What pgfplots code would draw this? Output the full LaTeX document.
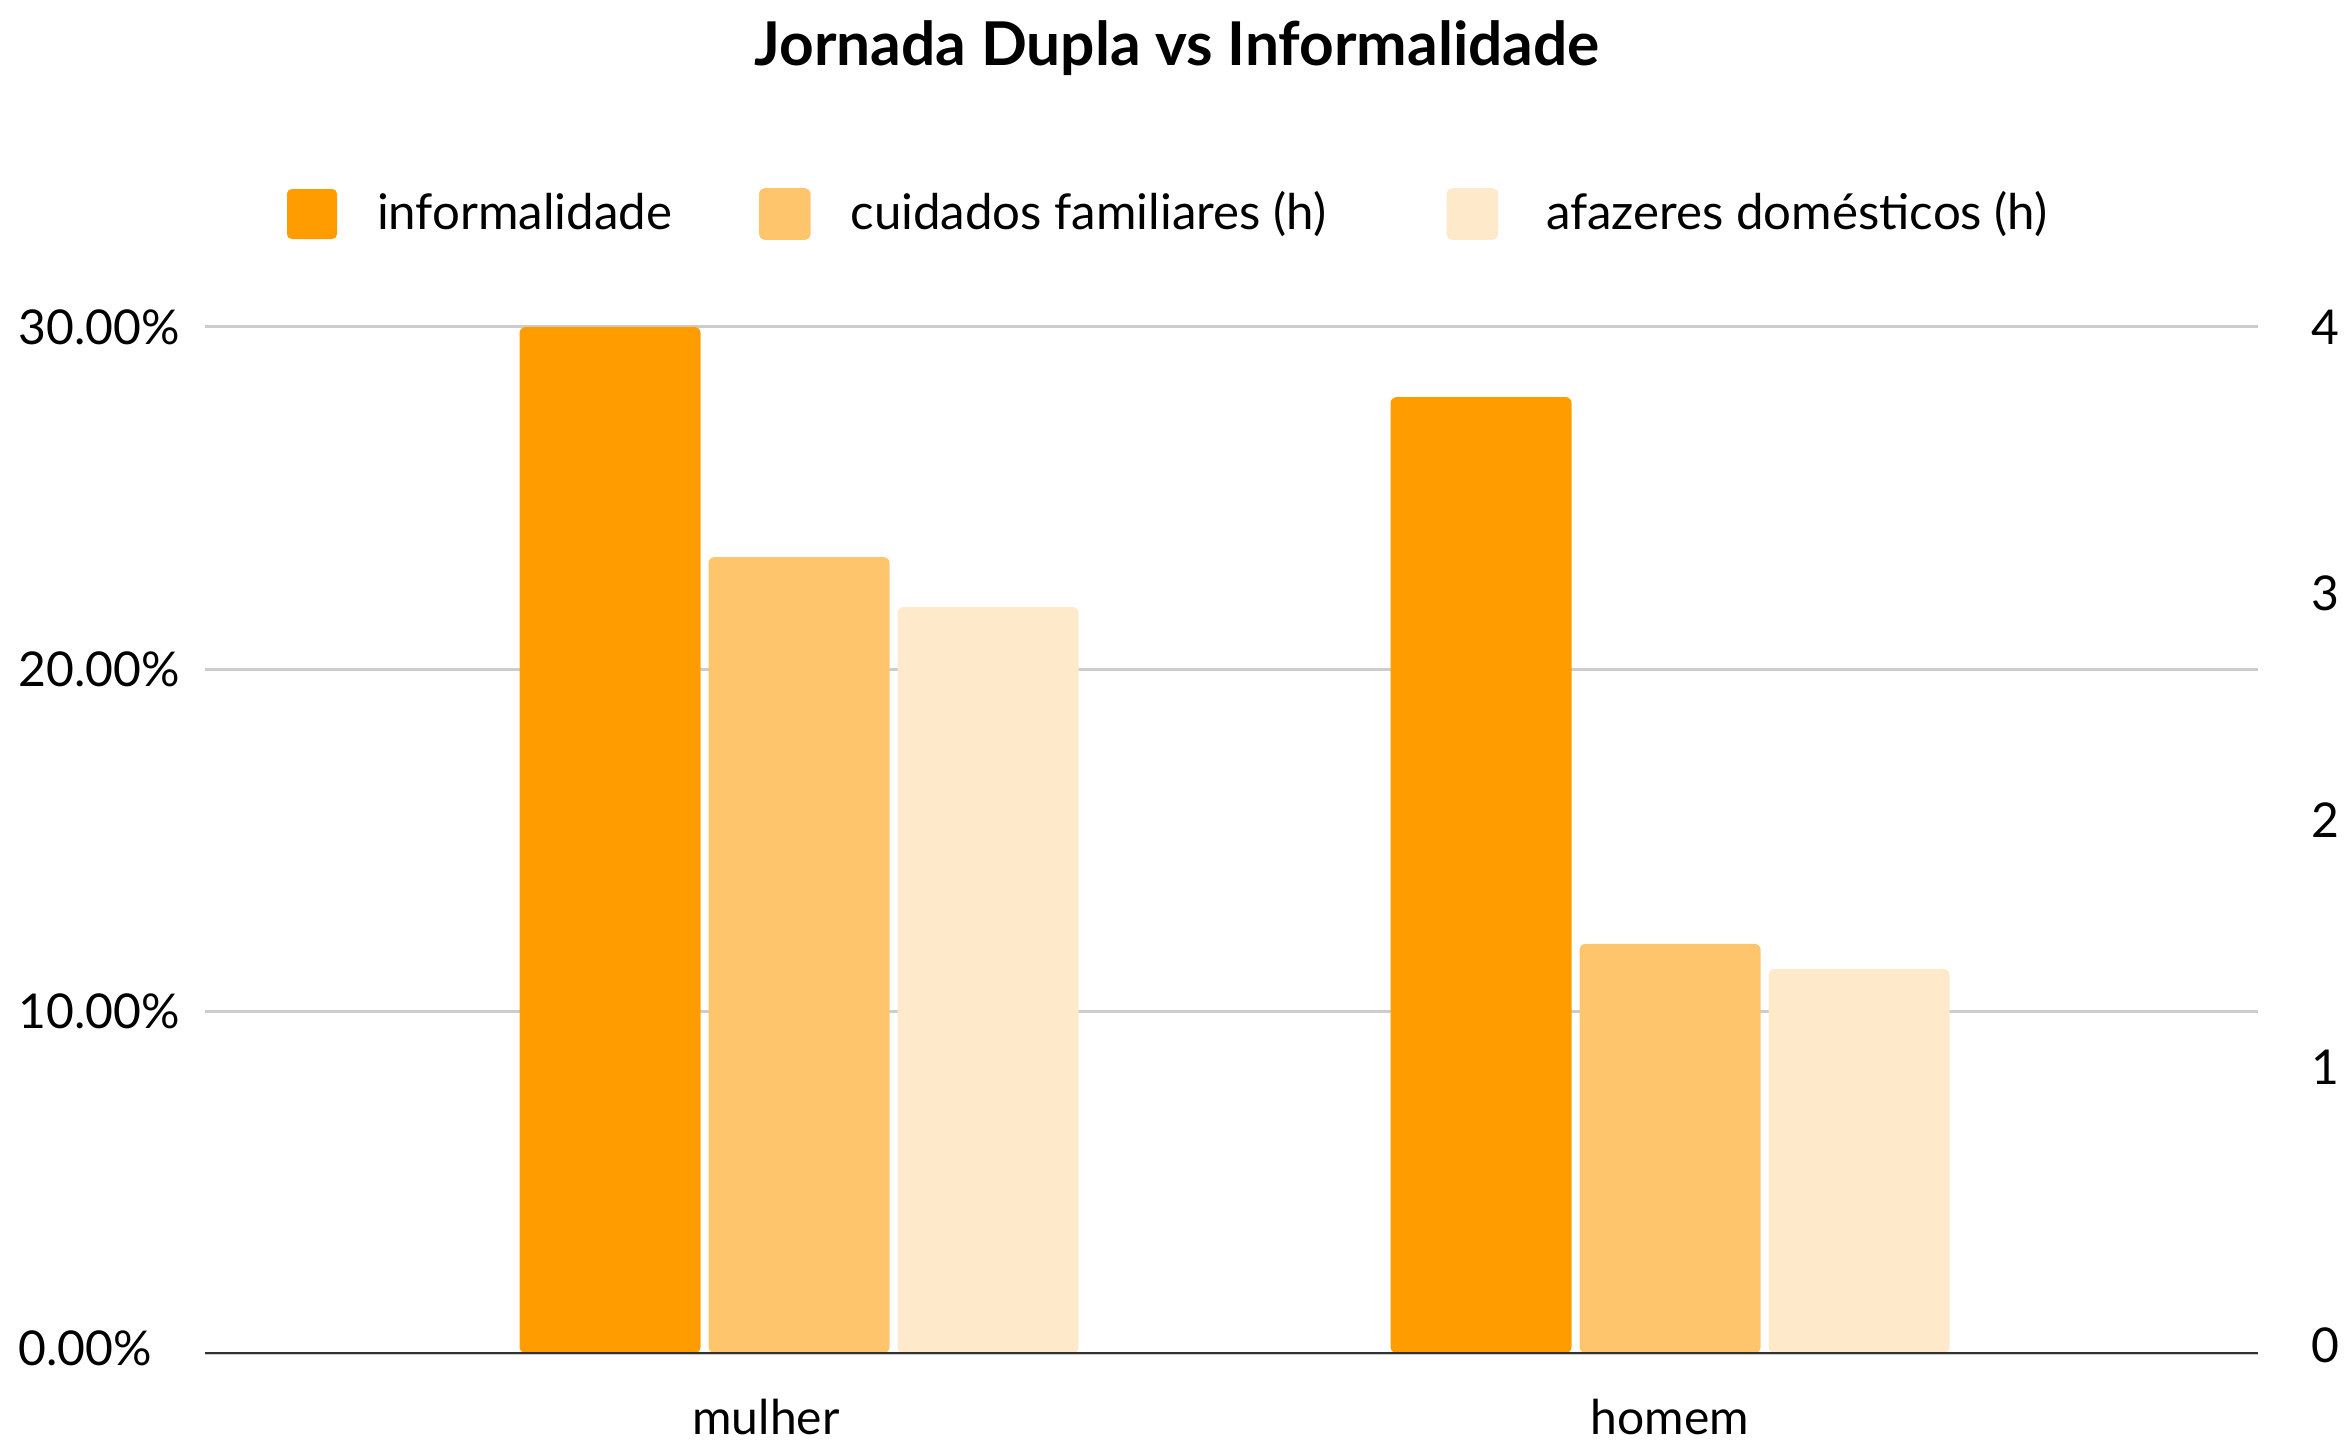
\documentclass[border=0pt]{standalone}
\usepackage{fontspec}
\setmainfont{Lato}
\usepackage{pgfplots}
\pgfplotsset{compat=1.18}
\definecolor{c1}{HTML}{FF9D00}
\definecolor{c2}{HTML}{FFC56C}
\definecolor{c3}{HTML}{FFE9CB}
\definecolor{gridc}{HTML}{CCCCCC}
\definecolor{basec}{HTML}{333333}
\begin{document}
\fontsize{12bp}{14bp}\selectfont
\begin{tikzpicture}[x=1bp,y=1bp,font=\fontsize{12bp}{14bp}\selectfont]
\useasboundingbox (0,0) rectangle (587,360.25);
\pgfplotsset{common/.style={scale only axis, width=513.25bp, height=256.5bp,
  at={(51.25bp,22bp)}, anchor=south west, xmin=-0.682, xmax=1.675,
  major tick length=0pt}}
\begin{axis}[common, ymin=0, ymax=30,
  axis x line*=bottom, axis y line*=left, axis line style={draw=none},
  xtick={-0.0379,1}, xticklabels={mulher,homem},
  xticklabel style={anchor=base, yshift=-20.25bp},
  ytick={0,10,20,30},
  yticklabels={\raisebox{2.25bp}{0.00\%},10.00\%,20.00\%,30.00\%},
  yticklabel style={anchor=west, inner sep=0pt, xshift=-46.75bp},
  ymajorgrids, grid style={gridc, line width=0.75bp},
  legend columns=3,
  legend style={at={(axis description cs:0.03994,1.1101)}, anchor=west,
    draw=none, fill=none, inner sep=0pt, outer sep=0pt,
    font=\fontsize{12.3bp}{14bp}\selectfont,
    nodes={inner sep=0pt, anchor=base west},
    /tikz/every odd column/.append style={column sep=10bp},
    /tikz/every even column/.append style={column sep=0bp}},
]
\addplot[ybar, bar width=0.2078, bar shift=-0.217, fill=c1, draw=none, rounded corners=1.5bp,
  legend image code/.code={\fill[c1, rounded corners=1.2bp] (0bp,-2.5bp) rectangle (12.5bp,10bp);}]
  coordinates {(0,30.0) (1,27.95)};
\addlegendentry{\makebox[95.5bp][l]{informalidade}}
\addlegendimage{legend image code/.code={\fill[c2, rounded corners=1.2bp] (0bp,-2.5bp) rectangle (12.5bp,10bp);}}
\addlegendentry{\makebox[149bp][l]{cuidados familiares (h)}}
\addlegendimage{legend image code/.code={\fill[c3, rounded corners=1.2bp] (0bp,-2.5bp) rectangle (12.5bp,10bp);}}
\addlegendentry{\hspace{2bp}afazeres domésticos (h)}
\end{axis}
\begin{axis}[common, ymin=0, ymax=4,
  axis x line*=bottom, axis y line*=right,
  x axis line style={draw=basec, line width=0.7bp},
  y axis line style={draw=none},
  xtick=\empty,
  ytick={0.03,1.115,2.078,2.963,4}, yticklabels={0,1,2,3,4},
  yticklabel style={anchor=center, inner sep=0pt, xshift=16.75bp},
  axis on top]
\addplot[ybar, bar width=0.2078, bar shift=0, fill=c2, draw=none, rounded corners=1.5bp]
  coordinates {(0,3.103) (1,1.595)};
\addplot[ybar, bar width=0.2078, bar shift=0.217, fill=c3, draw=none, rounded corners=1.5bp]
  coordinates {(0,2.908) (1,1.497)};
\end{axis}
\node[anchor=base, font=\bfseries\fontsize{15.1bp}{18bp}\selectfont] at (294.25,344) {Jornada Dupla vs Informalidade};
\end{tikzpicture}
\end{document}
